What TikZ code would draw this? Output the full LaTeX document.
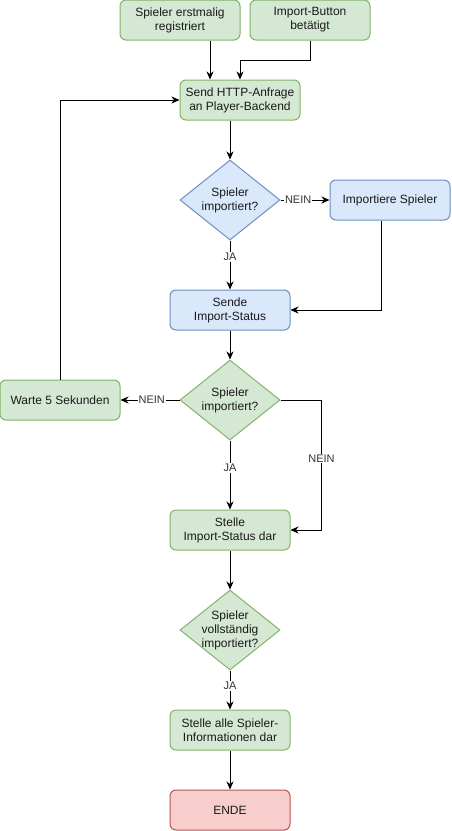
\documentclass[tikz,border=0pt]{standalone}
\usepackage{fontspec}
\setmainfont{Liberation Sans}
\usetikzlibrary{shapes.geometric,arrows.meta}
\definecolor{gfill}{HTML}{D5E8D4}
\definecolor{gline}{HTML}{82B366}
\definecolor{bfill}{HTML}{DAE8FC}
\definecolor{bline}{HTML}{6C8EBF}
\definecolor{rfill}{HTML}{F8CECC}
\definecolor{rline}{HTML}{B85450}
\definecolor{ink}{HTML}{1A1A1A}
\definecolor{lblink}{HTML}{333333}
\begin{document}
\begin{tikzpicture}[x=1pt,y=-1pt,
  box/.style={rounded corners=6pt, draw, line width=1pt, minimum width=120pt,
    minimum height=40pt, inner sep=0pt, align=center, text=ink,
    font=\fontsize{12}{14}\selectfont},
  gbox/.style={box, fill=gfill, draw=gline},
  bbox/.style={box, fill=bfill, draw=bline},
  rbox/.style={box, fill=rfill, draw=rline},
  dia/.style={diamond, draw, line width=1pt, minimum width=100pt,
    minimum height=80pt, inner sep=0pt},
  gdia/.style={dia, fill=gfill, draw=gline},
  bdia/.style={dia, fill=bfill, draw=bline},
  dtext/.style={align=center, text=ink, font=\fontsize{12}{14}\selectfont},
  arr/.style={draw=black, line width=1pt, -{Stealth[length=8pt,width=7pt,inset=2.5pt]}},
  lbl/.style={fill=white, inner sep=1pt, text=lblink, font=\fontsize{11}{13}\selectfont}
]
\useasboundingbox (0,0) rectangle (451,831);

% process steps and decisions
\node[gbox] (reg) at (180,20) {Spieler erstmalig\\registriert};
\node[gbox] (btn) at (310,20) {Import-Button\\betätigt};
\node[gbox] (http) at (240,100) {Send HTTP-Anfrage\\an Player-Backend};
\node[bdia, label={[dtext]center:Spieler\\importiert?}] (q1) at (230,200) {};
\node[bbox] (imp) at (390,200) {Importiere Spieler};
\node[bbox] (send) at (230,310) {Sende\\Import-Status};
\node[gdia, label={[dtext]center:Spieler\\importiert?}] (q2) at (230,400) {};
\node[gbox] (wait) at (60,400) {Warte 5 Sekunden};
\node[gbox] (show) at (230,530) {Stelle\\Import-Status dar};
\node[gdia, label={[dtext]center:Spieler\\vollständig\\importiert?}] (q3) at (230,630) {};
\node[gbox] (all) at (230,730) {Stelle alle Spieler-\\Informationen dar};
\node[rbox] (end) at (230,810) {ENDE};

% connectors
\draw[arr] ([xshift=30pt]reg.south) -- ([xshift=-30pt]http.north);
\draw[arr] (btn.south) -- ++(0,20) -| (http.north);
\draw[arr] ([xshift=-10pt]http.south) -- (q1.north);
\draw[arr] (q1.east) -- node[lbl,pos=0.36]{NEIN} (imp.west);
\draw[arr] (q1.south) -- node[lbl,pos=0.34]{JA} (send.north);
\draw[arr] ([xshift=-9pt]imp.south) |- (send.east);
\draw[arr] (send.south) -- (q2.north);
\draw[arr] (q2.west) -- node[lbl,pos=0.47]{NEIN} (wait.east);
\draw[arr] (wait.north) |- (http.west);
\draw[arr] (q2.east) -- ++(41,0) -- node[lbl,pos=0.45]{NEIN} ++(0,130) -- (show.east);
\draw[arr] (q2.south) -- node[lbl,pos=0.4]{JA} (show.north);
\draw[arr] (show.south) -- (q3.north);
\draw[arr] (q3.south) -- node[lbl,pos=0.4]{JA} (all.north);
\draw[arr] (all.south) -- (end.north);
\end{tikzpicture}
\end{document}
